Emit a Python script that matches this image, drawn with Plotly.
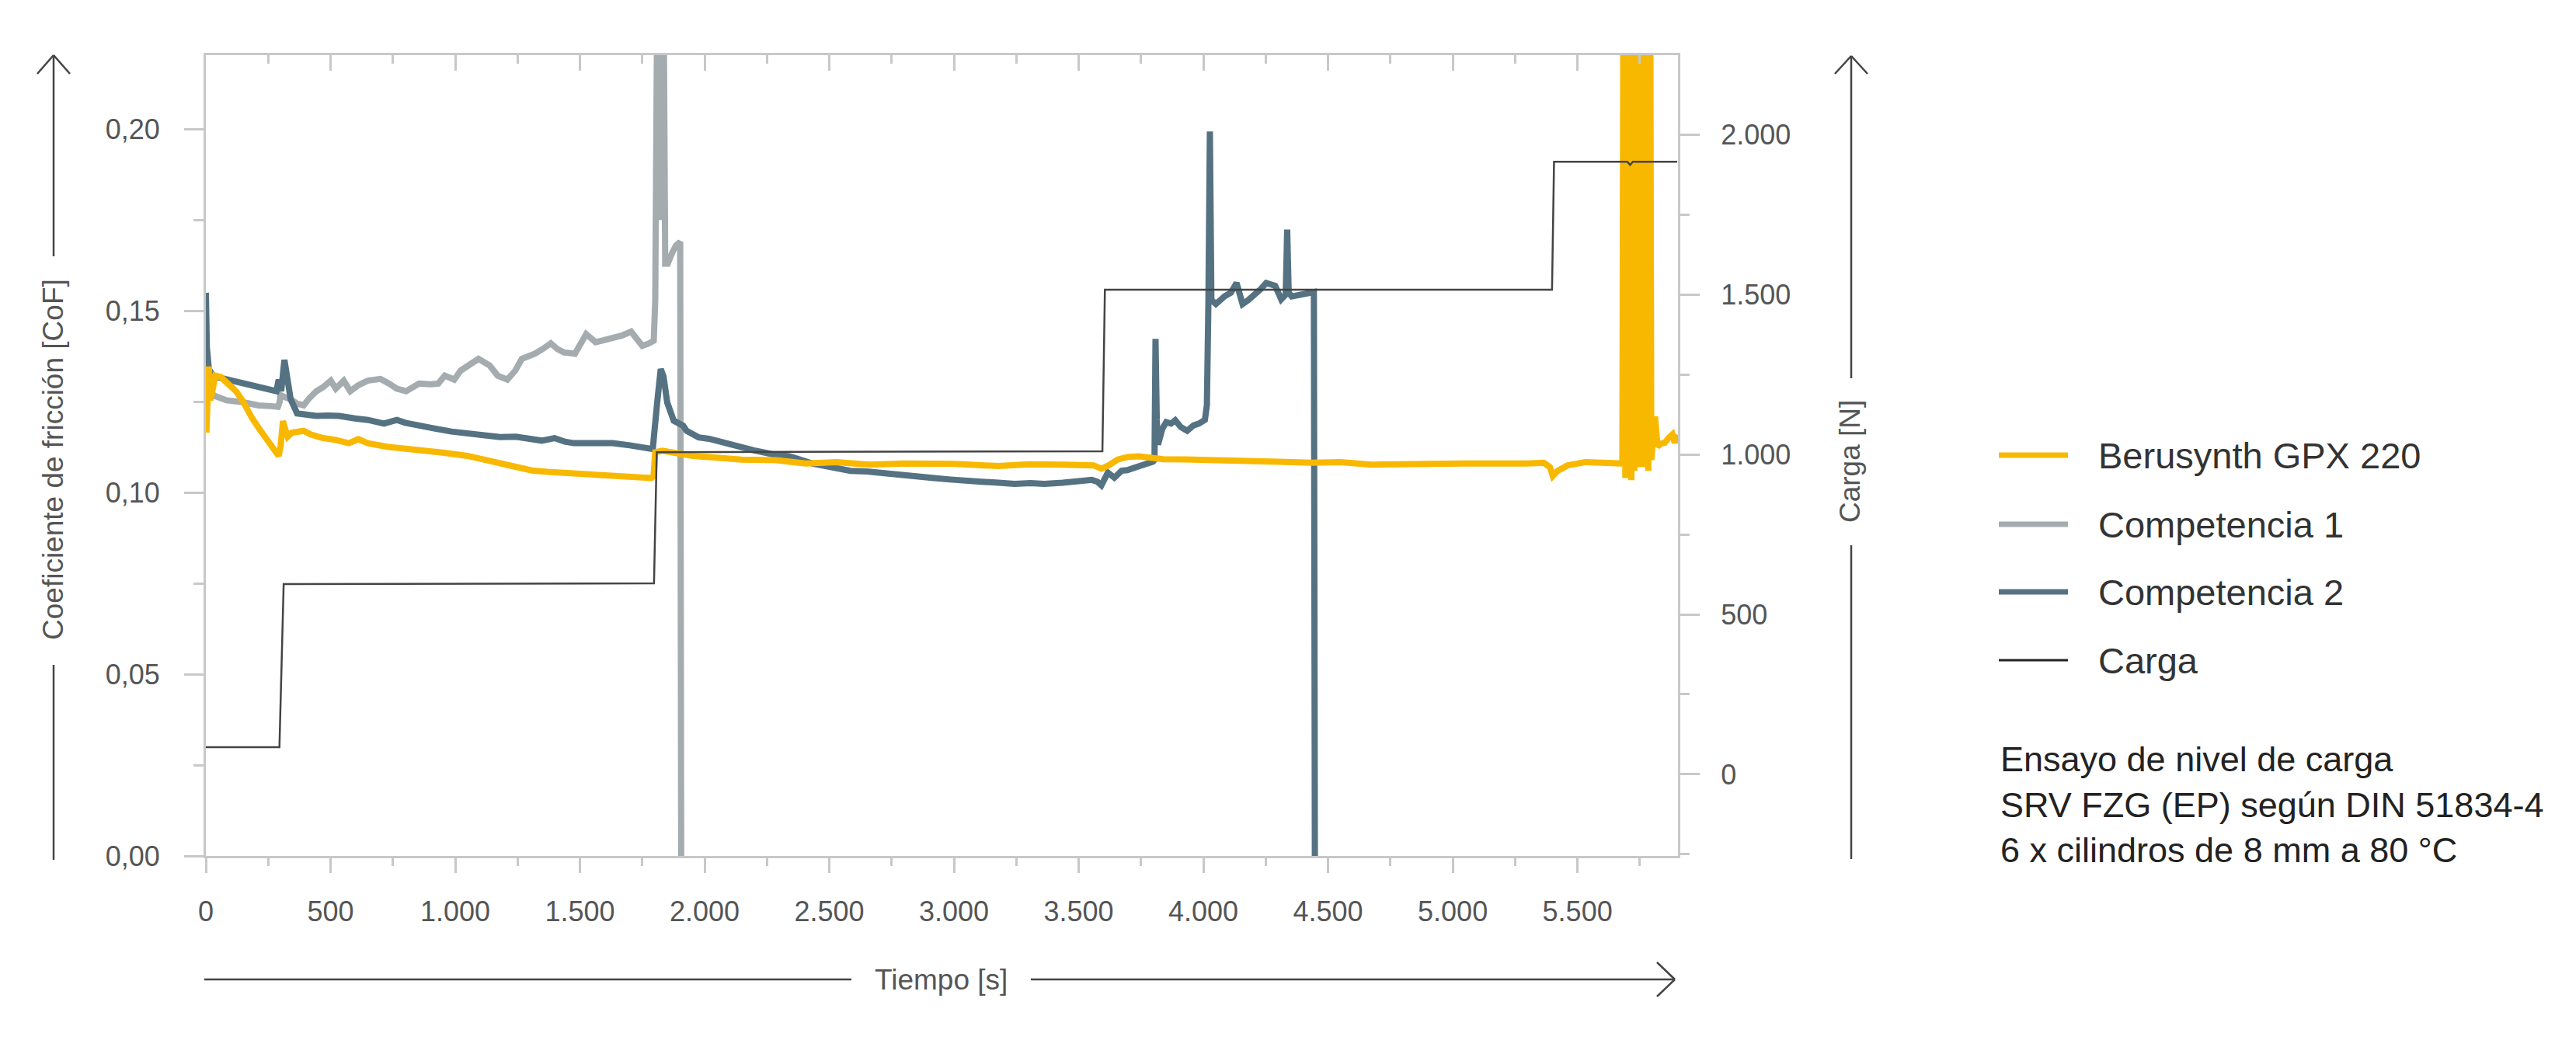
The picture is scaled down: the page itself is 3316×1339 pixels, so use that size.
import plotly.graph_objects as go

# Berusynth GPX 220 - coeficiente de friccion
t_beru = [2, 8, 12, 18, 28, 38, 60, 83, 100, 121, 150, 186, 220, 250, 275, 292, 300, 309, 318, 328,
          345, 370, 392, 420, 470, 520, 573, 611, 650, 727, 790, 856, 950, 1049, 1100, 1178, 1240, 1307, 1370, 1436,
          1530, 1631, 1700, 1786, 1795, 1802, 1830, 1860, 1900, 1953, 2050, 2147, 2290, 2405, 2528, 2663, 2800, 3005, 3178, 3300,
          3436, 3560, 3591, 3620, 3656, 3695, 3740, 3792, 3839, 3958, 4100, 4197, 4300, 4435, 4550, 4674, 4800, 4912, 5050, 5151,
          5300, 5365, 5390, 5401, 5420, 5461, 5532, 5600, 5680,
          5686, 5692, 5698, 5704, 5710, 5716, 5722, 5728, 5734, 5740, 5746, 5752, 5756, 5760, 5766, 5772, 5778, 5784, 5790, 5796,
          5811, 5821, 5835, 5850, 5865, 5881, 5890, 5900]
cof_beru = [0.1165, 0.1280, 0.1347, 0.1254, 0.1300, 0.1322, 0.1318, 0.1304, 0.1295, 0.1279, 0.1250, 0.1204, 0.1170, 0.1140, 0.1118, 0.1101, 0.1130, 0.1197, 0.1175, 0.1154,
            0.1165, 0.1168, 0.1170, 0.1160, 0.1150, 0.1145, 0.1136, 0.1147, 0.1136, 0.1126, 0.1122, 0.1118, 0.1110, 0.1101, 0.1093, 0.1079, 0.1070, 0.1061, 0.1057, 0.1054,
            0.1050, 0.1047, 0.1045, 0.1040, 0.1045, 0.1111, 0.1115, 0.1111, 0.1108, 0.1101, 0.1096, 0.1091, 0.1089, 0.1080, 0.1084, 0.1077, 0.1080, 0.1079, 0.1073, 0.1078,
            0.1077, 0.1075, 0.1066, 0.1075, 0.1091, 0.1098, 0.1100, 0.1094, 0.1092, 0.1091, 0.1090, 0.1086, 0.1085, 0.1082, 0.1084, 0.1077, 0.1080, 0.1079, 0.1080, 0.1079,
            0.1080, 0.1082, 0.1070, 0.1046, 0.1060, 0.1075, 0.1084, 0.1082, 0.1080,
            0.30, 0.104, 0.30, 0.108, 0.30, 0.1034, 0.30, 0.106, 0.30, 0.108, 0.30, 0.107, 0.195, 0.107, 0.30, 0.108, 0.30, 0.106, 0.30, 0.109,
            0.121, 0.1127, 0.1135, 0.1137, 0.1150, 0.1160, 0.1137, 0.1160]

# Competencia 1
t_comp1 = [0, 12, 40, 83, 147, 212, 260, 289, 296, 299, 320, 340, 365, 392, 415, 443, 470, 501, 521, 553,
           579, 610, 649, 700, 735, 765, 803, 830, 855, 900, 932, 958, 996, 1022, 1060, 1093, 1138, 1170, 1209, 1241,
           1267, 1300, 1319, 1350, 1383, 1410, 1435, 1480, 1500, 1525, 1563, 1600, 1628, 1667, 1705, 1730, 1750, 1775, 1796, 1802,
           1808, 1816, 1822, 1830, 1842, 1852, 1870, 1885, 1902, 1906]
cof_comp1 = [0.1290, 0.1276, 0.1265, 0.1254, 0.1249, 0.1240, 0.1238, 0.1236, 0.1250, 0.1268, 0.1262, 0.1257, 0.1245, 0.1240, 0.1260, 0.1279, 0.1290, 0.1308, 0.1286, 0.1308,
             0.1279, 0.1295, 0.1308, 0.1313, 0.1300, 0.1286, 0.1279, 0.1292, 0.1300, 0.1298, 0.1300, 0.1322, 0.1311, 0.1336, 0.1355, 0.1368, 0.1350, 0.1322, 0.1311, 0.1336,
             0.1368, 0.1375, 0.1382, 0.1395, 0.1411, 0.1395, 0.1386, 0.1382, 0.1405, 0.1436, 0.1414, 0.1420, 0.1425, 0.1432, 0.1443, 0.1420, 0.1404, 0.1410, 0.1418, 0.1529,
             0.1744, 0.30, 0.175, 0.30, 0.1630, 0.1630, 0.1660, 0.1680, 0.1690, 0.0]

# Competencia 2
t_comp2 = [0, 4, 12, 25, 44, 100, 147, 212, 283, 292, 302, 315, 322, 328, 340, 366, 400, 443, 490, 534,
           598, 650, 714, 766, 800, 856, 920, 985, 1050, 1114, 1180, 1243, 1300, 1347, 1398, 1440, 1476, 1550, 1631, 1700,
           1760, 1792, 1810, 1824, 1835, 1850, 1876, 1914, 1928, 1976, 2018, 2095, 2150, 2198, 2290, 2340, 2433, 2500, 2585, 2650,
           2727, 2800, 2856, 2920, 2985, 3049, 3110, 3178, 3243, 3307, 3362, 3436, 3500, 3553, 3575, 3591, 3617, 3630, 3643, 3672,
           3695, 3730, 3768, 3797, 3804, 3808, 3813, 3818, 3835, 3851, 3870, 3887, 3910, 3935, 3960, 3982, 4006, 4014, 4020, 4026,
           4032, 4050, 4085, 4110, 4133, 4157, 4180, 4205, 4230, 4252, 4288, 4312, 4330, 4336, 4342, 4354, 4390, 4419, 4443, 4447]
cof_comp2 = [0.1550, 0.1400, 0.1340, 0.1325, 0.1318, 0.1308, 0.1300, 0.1290, 0.1279, 0.1311, 0.1279, 0.1365, 0.1340, 0.1304, 0.1257, 0.1218, 0.1213, 0.1211, 0.1212, 0.1211,
             0.1204, 0.1200, 0.1190, 0.1200, 0.1192, 0.1183, 0.1176, 0.1168, 0.1162, 0.1158, 0.1153, 0.1154, 0.1148, 0.1143, 0.1150, 0.1140, 0.1136, 0.1138, 0.1136, 0.1130,
             0.1125, 0.1120, 0.1250, 0.1340, 0.1320, 0.1248, 0.1198, 0.1184, 0.1170, 0.1152, 0.1148, 0.1134, 0.1122, 0.1116, 0.1103, 0.1100, 0.1080, 0.1070, 0.1060, 0.1058,
             0.1052, 0.1046, 0.1045, 0.1040, 0.1036, 0.1031, 0.1030, 0.1027, 0.1024, 0.1026, 0.1024, 0.1027, 0.1030, 0.1035, 0.1030, 0.1020, 0.1055, 0.1045, 0.1041, 0.1060,
             0.1062, 0.1070, 0.1077, 0.1085, 0.1090, 0.1423, 0.1200, 0.1132, 0.1175, 0.1194, 0.1190, 0.1199, 0.1180, 0.1170, 0.1185, 0.1190, 0.1200, 0.1241, 0.1519, 0.1994,
             0.1530, 0.1519, 0.1540, 0.1550, 0.1577, 0.1519, 0.1530, 0.1544, 0.1560, 0.1577, 0.1569, 0.1532, 0.1545, 0.1724, 0.1550, 0.1540, 0.1545, 0.1552, 0.1552, 0.0]

# Carga [N]
t_carga = [0, 295, 312, 1000, 1797, 1808, 2500, 3595, 3605, 4500, 5398, 5406, 5700, 5711, 5722, 5900]
carga = [85, 85, 595, 596, 597, 1007, 1008, 1010, 1515, 1515, 1515, 1915, 1915, 1905, 1915, 1915]

names = ["Berusynth GPX 220", "Competencia 1", "Competencia 2", "Carga"]
colors = ["#F9B800", "#A5ACAF", "#557282", "#444444"]

note_lines = ["Ensayo de nivel de carga", "SRV FZG (EP) según DIN 51834-4", "6 x cilindros de 8 mm a 80 °C"]

FONT = "Liberation Sans, Arial, sans-serif"
AXC = "#c8c8c8"
TXT = "#555555"

# plot area in pixels (as seen in the reference)
L, R, T, B = 265, 2160, 71, 1102
W, H = 3316, 1339
OFF = 8  # page body margin of the html


def px(x):
    return (x - L) / (R - L)


def py(y):
    return (B - y) / (B - T)


fig = go.Figure()
fig.add_trace(go.Scatter(x=t_comp1, y=cof_comp1, name=names[1], mode="lines",
                         line=dict(color=colors[1], width=8)))
fig.add_trace(go.Scatter(x=t_comp2, y=cof_comp2, name=names[2], mode="lines",
                         line=dict(color=colors[2], width=8)))
fig.add_trace(go.Scatter(x=t_beru, y=cof_beru, name=names[0], mode="lines",
                         line=dict(color=colors[0], width=8)))
fig.add_trace(go.Scatter(x=t_carga, y=carga, name=names[3], mode="lines",
                         line=dict(color=colors[3], width=2.5), xaxis="x2", yaxis="y2"))

tickfont = dict(family=FONT, size=36, color=TXT)
common = dict(showgrid=False, zeroline=False, showline=True, linecolor=AXC, linewidth=3,
              tickcolor=AXC, tickwidth=3, tickfont=tickfont)

fig.update_layout(
    width=W, height=H, autosize=False,
    margin=dict(l=L - OFF, r=W - R + OFF, t=T - OFF, b=H - B + OFF),
    paper_bgcolor="white", plot_bgcolor="white",
    separators=",.",
    showlegend=False,
    font=dict(family=FONT),
    xaxis=dict(range=[0, 5903], tick0=0, dtick=500, tickformat=",d", ticks="outside", ticklen=19,
               ticklabelstandoff=19,
               minor=dict(dtick=250, ticks="outside", ticklen=10, tickwidth=3, tickcolor=AXC), **common),
    xaxis2=dict(range=[0, 5903], overlaying="x", side="top", anchor="y2", tick0=0, dtick=500,
                ticks="inside", ticklen=20, showticklabels=False,
                minor=dict(dtick=250, ticks="inside", ticklen=11, tickwidth=3, tickcolor=AXC), **common),
    yaxis=dict(range=[0, 0.2204], tick0=0, dtick=0.05, tickformat=".2f", ticks="outside", ticklen=25,
               ticklabelstandoff=24,
               minor=dict(dtick=0.025, ticks="outside", ticklen=13, tickwidth=3, tickcolor=AXC), **common),
    yaxis2=dict(range=[-255, 2248], overlaying="y", side="right", anchor="x2", tick0=0, dtick=500,
                tickformat=",d", ticks="outside", ticklen=25, ticklabelstandoff=20,
                minor=dict(dtick=250, ticks="outside", ticklen=12, tickwidth=3, tickcolor=AXC), **common),
)

# axis titles with arrows
arrow = dict(color="#444444", width=2.5)
segments = [
    (69, 71, 69, 330), (69, 856, 69, 1107),
    (2383, 72, 2383, 487), (2383, 702, 2383, 1106),
    (263, 1261, 1096, 1261), (1327, 1261, 2156, 1261),
]
for x0, y0, x1, y1 in segments:
    fig.add_shape(type="line", xref="paper", yref="paper",
                  x0=px(x0), y0=py(y0), x1=px(x1), y1=py(y1), line=arrow)
heads = [
    [(48, 95), (69, 71), (90, 95)],
    [(2362, 95), (2383, 72), (2404, 95)],
    [(2133, 1239), (2156, 1261), (2133, 1283)],
]
for pts in heads:
    for (xa, ya), (xb, yb) in zip(pts[:-1], pts[1:]):
        fig.add_shape(type="line", xref="paper", yref="paper",
                      x0=px(xa), y0=py(ya), x1=px(xb), y1=py(yb), line=arrow)

title_font = dict(family=FONT, size=37, color=TXT)
fig.add_annotation(text="Coeficiente de fricción [CoF]", x=px(69), y=py(592), xref="paper", yref="paper",
                   textangle=-90, showarrow=False, font=title_font, xanchor="center", yanchor="middle")
fig.add_annotation(text="Carga [N]", x=px(2381), y=py(594), xref="paper", yref="paper",
                   textangle=-90, showarrow=False, font=title_font, xanchor="center", yanchor="middle")
fig.add_annotation(text="Tiempo [s]", x=px(1211), y=py(1261), xref="paper", yref="paper",
                   showarrow=False, font=title_font, xanchor="center", yanchor="middle")

# legend drawn beside the plot
leg_y = [586, 675, 762, 850]
leg_w = [7, 7, 7, 3]
for name, col, yy, lw in zip(names, colors, leg_y, leg_w):
    fig.add_shape(type="line", xref="paper", yref="paper",
                  x0=px(2573), x1=px(2662), y0=py(yy), y1=py(yy),
                  line=dict(color=col if name != "Carga" else "#222222", width=lw))
    fig.add_annotation(text=name, x=px(2699), y=py(yy), xref="paper", yref="paper",
                       showarrow=False, xanchor="left", yanchor="middle",
                       font=dict(family=FONT, size=47, color="#333333"))

fig.add_annotation(text="<br>".join(note_lines), x=px(2573), y=py(1036), xref="paper", yref="paper",
                   showarrow=False, xanchor="left", yanchor="middle", align="left",
                   font=dict(family=FONT, size=45, color="#222222"))

fig.write_html("out.html")
